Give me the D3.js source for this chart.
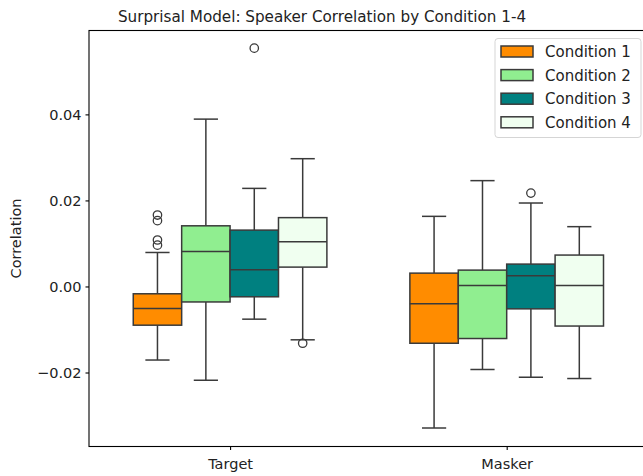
<!DOCTYPE html>
<html>
<head>
<meta charset="utf-8">
<script src="https://cdn.jsdelivr.net/npm/d3@7"></script>
<style>
  html, body { margin: 0; padding: 0; background: #fff; }
  svg { display: block; font-family: "DejaVu Sans", sans-serif; }
</style>
</head>
<body>
<svg id="chart" width="643" height="476"></svg>
<script>
// Groups on the x axis and the four conditions within each group
const groups = ["Target", "Masker"];
const conditions = ["Condition 1", "Condition 2", "Condition 3", "Condition 4"];
const colors = ["#ff8c00", "#90ee90", "#008080", "#f0fff0"];

// Box statistics, indexed [group][condition]
const whiskerLow  = [[-0.0171, -0.0218, -0.0076, -0.0124], [-0.0329, -0.0193, -0.0211, -0.0214]];
const q1          = [[-0.0090, -0.0036, -0.0024,  0.0045], [-0.0132, -0.0121, -0.0052, -0.0092]];
const medians     = [[-0.0051,  0.0081,  0.0039,  0.0104], [-0.0040,  0.0002,  0.0025,  0.0002]];
const q3          = [[-0.0017,  0.0141,  0.0131,  0.0160], [ 0.0031,  0.0038,  0.0052,  0.0073]];
const whiskerHigh = [[ 0.0079,  0.0389,  0.0228,  0.0297], [ 0.0163,  0.0246,  0.0194,  0.0139]];
const outliers    = [[[0.0166, 0.0153, 0.0108, 0.0096], [], [0.0554], [-0.0132]],
                     [[], [], [0.0217], []]];

const yTicks = [-0.02, 0.00, 0.02, 0.04];

const W = 643, H = 476;
const plot = { left: 89, right: 645, top: 30.5, bottom: 446.5 };
const lineColor = "#3a3a3a";
const boxWidth = 0.175;

const svg = d3.select("#chart");

const x = d3.scaleLinear().domain([-0.51, 1.5]).range([plot.left, plot.right]);
const y = d3.scaleLinear().domain([-0.0372, 0.0595]).range([plot.bottom, plot.top]);

// Boxes
const boxes = [];
groups.forEach((g, gi) => {
  conditions.forEach((c, ci) => {
    boxes.push({
      gi, ci,
      center: gi + (ci - 1.5) * boxWidth,
      lo: whiskerLow[gi][ci], q1: q1[gi][ci], med: medians[gi][ci],
      q3: q3[gi][ci], hi: whiskerHigh[gi][ci], out: outliers[gi][ci]
    });
  });
});

const gBoxes = svg.append("g");
boxes.forEach(b => {
  const g = gBoxes.append("g");
  const x0 = x(b.center - boxWidth / 2), x1 = x(b.center + boxWidth / 2);
  const xc = x(b.center);
  const capHalf = (x1 - x0) / 4;
  // whiskers
  g.append("line").attr("x1", xc).attr("x2", xc).attr("y1", y(b.q3)).attr("y2", y(b.hi))
    .attr("stroke", lineColor).attr("stroke-width", 1.5);
  g.append("line").attr("x1", xc).attr("x2", xc).attr("y1", y(b.q1)).attr("y2", y(b.lo))
    .attr("stroke", lineColor).attr("stroke-width", 1.5);
  // caps
  [b.hi, b.lo].forEach(v => {
    g.append("line").attr("x1", xc - capHalf).attr("x2", xc + capHalf)
      .attr("y1", y(v)).attr("y2", y(v))
      .attr("stroke", lineColor).attr("stroke-width", 1.5);
  });
  // box
  g.append("rect").attr("x", x0).attr("y", y(b.q3))
    .attr("width", x1 - x0).attr("height", y(b.q1) - y(b.q3))
    .attr("fill", colors[b.ci]).attr("stroke", lineColor).attr("stroke-width", 1.5);
  // median
  g.append("line").attr("x1", x0).attr("x2", x1).attr("y1", y(b.med)).attr("y2", y(b.med))
    .attr("stroke", lineColor).attr("stroke-width", 1.5);
  // fliers
  b.out.forEach(v => {
    g.append("circle").attr("cx", xc).attr("cy", y(v)).attr("r", 4.2)
      .attr("fill", "none").attr("stroke", lineColor).attr("stroke-width", 1.3);
  });
});

// Axes frame
svg.append("rect").attr("x", plot.left).attr("y", plot.top)
  .attr("width", plot.right - plot.left).attr("height", plot.bottom - plot.top)
  .attr("fill", "none").attr("stroke", "#000").attr("stroke-width", 1.1);

// Y axis
const fmt = v => (v < 0 ? "\u2212" : "") + Math.abs(v).toFixed(2);
const yAxis = svg.append("g").attr("transform", `translate(${plot.left},0)`)
  .call(d3.axisLeft(y).tickValues(yTicks).tickFormat(fmt).tickSize(3.5).tickPadding(4));
yAxis.select(".domain").remove();
yAxis.selectAll("line").attr("stroke", "#000").attr("stroke-width", 1.1);
yAxis.selectAll("text").attr("font-size", 14.5).attr("fill", "#222")
  .attr("font-family", "DejaVu Sans");

// X axis
const xAxis = svg.append("g").attr("transform", `translate(0,${plot.bottom})`)
  .call(d3.axisBottom(x).tickValues(groups.map((g, i) => i)).tickFormat(i => groups[i])
    .tickSize(3.5).tickPadding(9));
xAxis.select(".domain").remove();
xAxis.selectAll("line").attr("stroke", "#000").attr("stroke-width", 1.1);
xAxis.selectAll("text").attr("font-size", 14.5).attr("fill", "#222")
  .attr("font-family", "DejaVu Sans");

// Y label
svg.append("text")
  .attr("transform", `translate(21,${(plot.top + plot.bottom) / 2}) rotate(-90)`)
  .attr("text-anchor", "middle")
  .attr("font-size", 14.5).attr("fill", "#222")
  .text("Correlation");

// Title
svg.append("text")
  .attr("x", 322).attr("y", 21.5)
  .attr("text-anchor", "middle")
  .attr("font-size", 15.2).attr("fill", "#222")
  .text("Surprisal Model: Speaker Correlation by Condition 1-4");

// Legend
const legend = svg.append("g");
legend.append("rect").attr("x", 495).attr("y", 38.5).attr("width", 146).attr("height", 99)
  .attr("rx", 3).attr("fill", "#fff").attr("fill-opacity", 0.8)
  .attr("stroke", "#d5d5d5").attr("stroke-width", 1);
conditions.forEach((c, i) => {
  const cy = 51.5 + i * 23.6;
  legend.append("rect").attr("x", 501).attr("y", cy - 5.5).attr("width", 32).attr("height", 11)
    .attr("fill", colors[i]).attr("stroke", lineColor).attr("stroke-width", 1.5);
  legend.append("text").attr("x", 545).attr("y", cy).attr("dy", "0.36em")
    .attr("font-size", 15).attr("fill", "#222").text(c);
});
</script>
</body>
</html>
